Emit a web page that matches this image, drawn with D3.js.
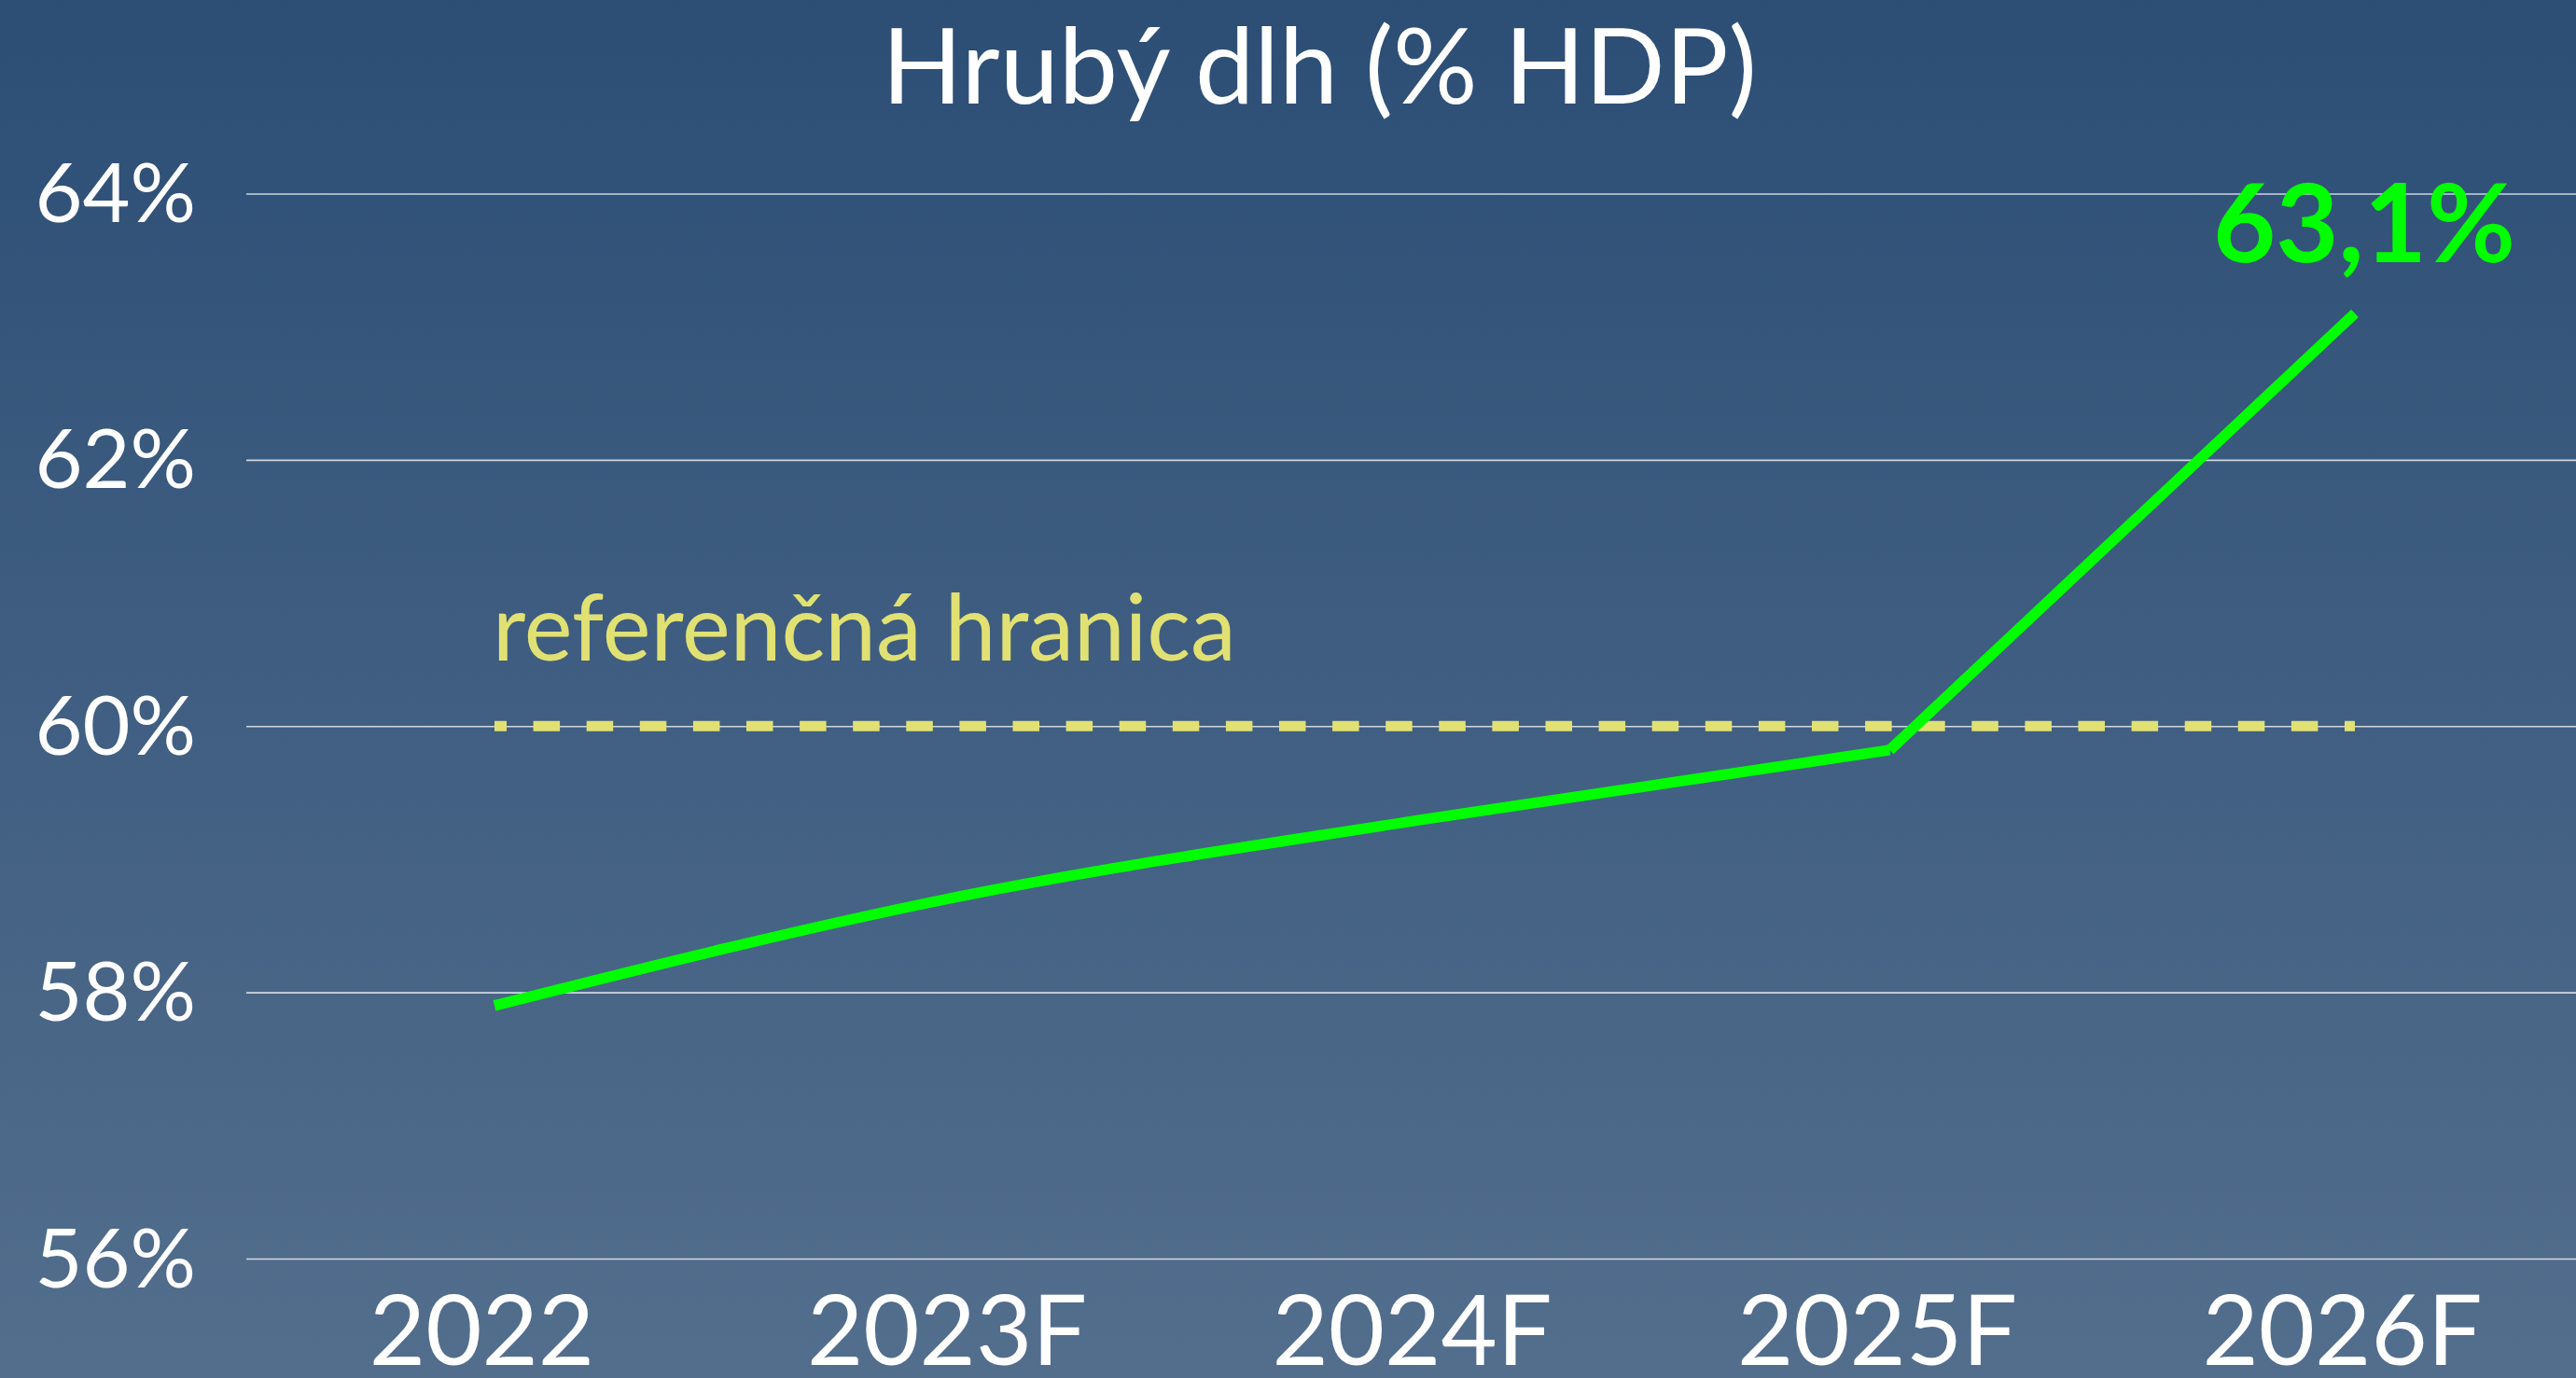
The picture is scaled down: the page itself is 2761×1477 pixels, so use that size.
<!DOCTYPE html>
<html>
<head>
<meta charset="utf-8">
<script src="https://cdn.jsdelivr.net/npm/d3@7"></script>
<style>
  html, body { margin: 0; padding: 0; overflow: hidden; }
  svg { display: block; }
  text { font-family: Lato, "Open Sans", sans-serif; }
</style>
</head>
<body>
<svg id="chart" width="2761" height="1477"></svg>
<script>
const categories = ["2022", "2023F", "2024F", "2025F", "2026F"];
const debtValues = [57.9, 58.72, 59.3, 59.82, 63.1];
const yTicks = [56, 58, 60, 62, 64];
const referenceLimit = 60;
const titleText = "Hrubý dlh (% HDP)";
const referenceLabel = "referenčná hranica";
const endLabel = "63,1%";

const W = 2761, H = 1477;
const svg = d3.select("#chart");

const defs = svg.append("defs");
const grad = defs.append("linearGradient").attr("id", "bg").attr("x1", 0).attr("y1", 0).attr("x2", 0).attr("y2", 1);
grad.append("stop").attr("offset", "0%").attr("stop-color", "#2c4e75");
grad.append("stop").attr("offset", "100%").attr("stop-color", "#536e8d");
svg.append("rect").attr("width", W).attr("height", H).attr("fill", "url(#bg)");

const x = d3.scalePoint().domain(categories).range([530, 2524]);
const y = d3.scaleLinear().domain([56, 64]).range([1349, 207.5]);

// gridlines + y labels
const yAxis = d3.axisLeft(y).tickValues(yTicks).tickSize(-(W - 264)).tickFormat(d => d + "%");
const gy = svg.append("g").attr("transform", "translate(264,0)").call(yAxis);
gy.select(".domain").remove();
gy.selectAll(".tick line").attr("stroke", "#ffffff").attr("stroke-opacity", 0.75).attr("stroke-width", 1.6);
gy.selectAll(".tick text")
  .attr("x", -54).attr("dy", null)
  .attr("dominant-baseline", "central")
  .attr("transform", "translate(0,-4)")
  .attr("fill", "#ffffff").attr("font-size", 88).attr("text-anchor", "end")
  .style("font-family", "Lato, sans-serif");

// x axis labels
const xAxis = d3.axisBottom(x).tickSize(0).tickPadding(0);
const gx = svg.append("g").attr("transform", "translate(0,1463)").call(xAxis);
gx.select(".domain").remove();
gx.selectAll(".tick text")
  .attr("y", 0).attr("dy", null).attr("dx", -14)
  .attr("fill", "#ffffff").attr("font-size", 104)
  .style("font-family", "Lato, sans-serif");

// reference dashed line
svg.append("line")
  .attr("x1", x(categories[0])).attr("x2", x(categories[categories.length - 1]))
  .attr("y1", y(referenceLimit)).attr("y2", y(referenceLimit))
  .attr("stroke", "#e1e173").attr("stroke-width", 11)
  .attr("stroke-dasharray", "28.5 28.6").attr("stroke-dashoffset", 15.5);

svg.append("text")
  .attr("x", x(categories[0]) - 2).attr("y", 708)
  .attr("fill", "#e1e173").attr("font-size", 98)
  .text(referenceLabel);

// data line: smooth part + straight final segment
const pts = categories.map((c, i) => [x(c), y(debtValues[i])]);
const smooth = d3.line().curve(d3.curveMonotoneX);
const straight = d3.line();
svg.append("path").attr("d", smooth(pts.slice(0, 4)))
  .attr("fill", "none").attr("stroke", "#00ff00").attr("stroke-width", 11.5);
svg.append("path").attr("d", straight(pts.slice(3)))
  .attr("fill", "none").attr("stroke", "#00ff00").attr("stroke-width", 11.5);

// end label
svg.append("text")
  .attr("x", x(categories[4]) + 10).attr("y", 281)
  .attr("text-anchor", "middle").attr("fill", "#00ff00")
  .attr("font-size", 116).attr("font-weight", 700)
  .text(endLabel);

// title
svg.append("text")
  .attr("x", 1414).attr("y", 111)
  .attr("text-anchor", "middle").attr("fill", "#ffffff")
  .attr("font-size", 113)
  .text(titleText);
</script>
</body>
</html>
